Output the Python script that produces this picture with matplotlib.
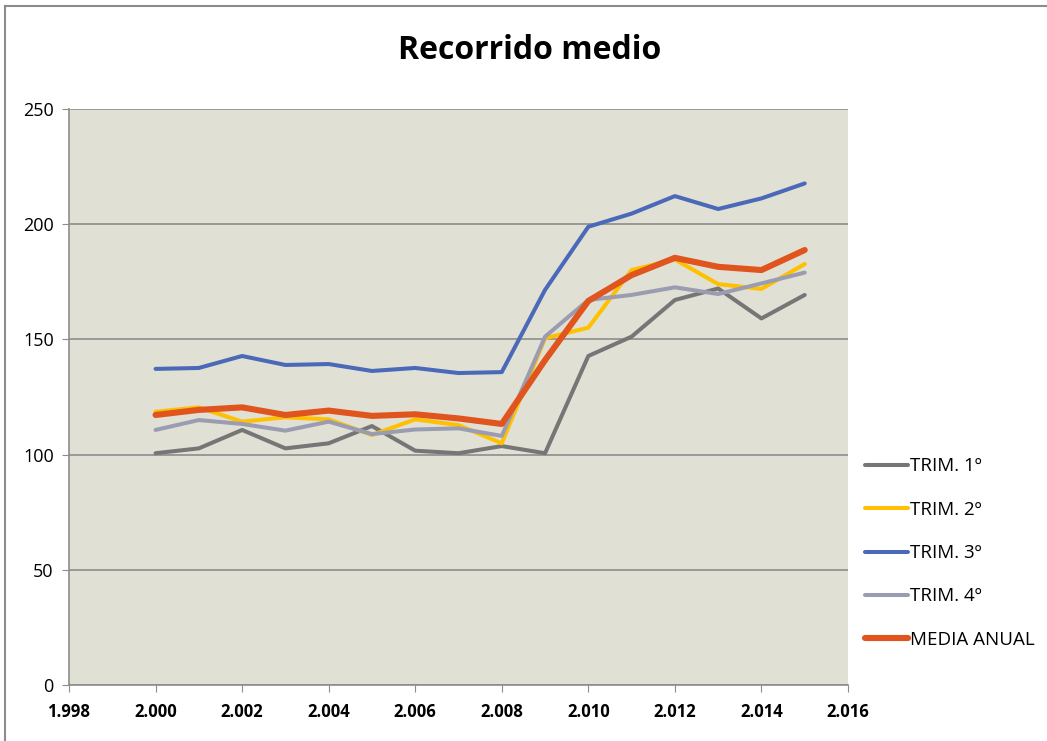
#!/usr/bin/env python3
"""Recorrido medio por trimestre, 2000-2015."""
import matplotlib
matplotlib.use("Agg")
import matplotlib.pyplot as plt
from matplotlib.lines import Line2D
from matplotlib.ticker import FuncFormatter, MultipleLocator

years = list(range(2000, 2016))

trim1 = [100.6, 102.7, 110.7, 102.7, 104.9, 112.4, 101.7, 100.6, 103.7,
         100.6, 142.8, 151.2, 167.1, 172.1, 159.1, 169.3]
trim2 = [118.6, 120.5, 114.3, 116.2, 115.3, 108.5, 115.3, 112.8, 104.9,
         150.5, 155.1, 180.1, 184.7, 174.0, 171.9, 182.7]
trim3 = [137.2, 137.6, 142.8, 138.9, 139.3, 136.3, 137.6, 135.4, 135.8,
         171.5, 198.9, 204.6, 212.2, 206.6, 211.2, 217.7]
trim4 = [110.7, 115.0, 113.3, 110.4, 114.3, 108.9, 110.9, 111.4, 108.1,
         151.2, 167.1, 169.3, 172.6, 169.7, 174.3, 179.0]
media = [117.2, 119.4, 120.5, 117.2, 119.1, 116.8, 117.5, 115.7, 113.3,
         141.0, 166.7, 177.9, 185.4, 181.5, 180.1, 188.8]

labels = ["TRIM. 1º", "TRIM. 2º", "TRIM. 3º", "TRIM. 4º", "MEDIA ANUAL"]
colors = ["#767676", "#FFC000", "#4A69B8", "#9A9DB2", "#E0541E"]
widths = [2.9, 2.9, 2.9, 2.9, 4.4]

plt.rcParams["font.family"] = ["Open Sans", "DejaVu Sans"]

fig = plt.figure(figsize=(10.47, 7.41), dpi=100)
ax = fig.add_axes([69 / 1047, 56 / 741, 779 / 1047, 576 / 741])
ax.set_facecolor("#E0E0D4")

for series, lab, col, lw in zip([trim1, trim2, trim3, trim4, media],
                                labels, colors, widths):
    ax.plot(years, series, color=col, lw=lw, label=lab,
            solid_joinstyle="round", solid_capstyle="round")

ax.set_xlim(1998, 2016)
ax.set_ylim(0, 250)
ax.xaxis.set_major_locator(MultipleLocator(2))
ax.yaxis.set_major_locator(MultipleLocator(50))
ax.xaxis.set_major_formatter(FuncFormatter(lambda v, p: f"{int(v) // 1000}.{int(v) % 1000:03d}"))
ax.grid(axis="y", color="#8C8C8C", lw=1.2)
ax.set_axisbelow(True)

for s in ["top", "right"]:
    ax.spines[s].set_visible(False)
for s in ["left", "bottom"]:
    ax.spines[s].set_color("#8C8C8C")
    ax.spines[s].set_linewidth(1.2)

ax.tick_params(axis="x", length=5, color="#8C8C8C", pad=8, labelsize=12)
ax.tick_params(axis="y", length=5, color="#8C8C8C", pad=6, labelsize=13)
for t in ax.get_xticklabels():
    t.set_fontweight("bold")

fig.text(0.506, 0.932, "Recorrido medio", ha="center", va="center",
         fontsize=23, fontweight="bold")

leg = ax.legend(loc="center left", bbox_to_anchor=(1.0, 0.229), frameon=False,
                fontsize=13.5, handlelength=2.3, handletextpad=0.1,
                labelspacing=1.35, borderaxespad=0.5)

# chart frame (top and left edges visible)
fig.add_artist(Line2D([5 / 1047, 5 / 1047], [0, 1 - 6 / 741], transform=fig.transFigure,
                      color="#8C8C8C", lw=1.5))
fig.add_artist(Line2D([5 / 1047, 1], [1 - 6 / 741, 1 - 6 / 741], transform=fig.transFigure,
                      color="#8C8C8C", lw=1.5))

fig.savefig("out.png", dpi=100)
